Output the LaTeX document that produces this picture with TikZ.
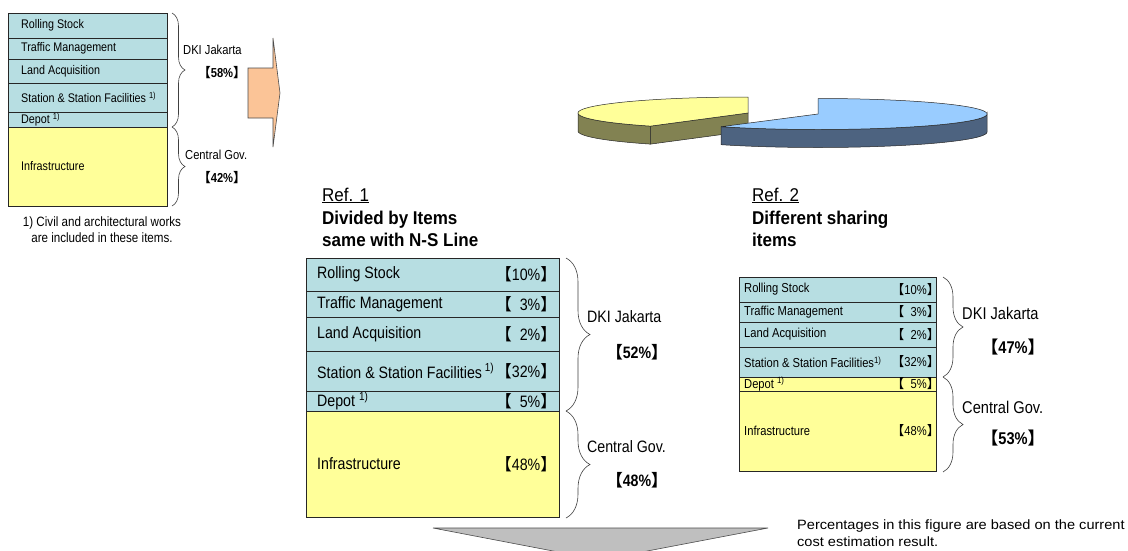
\documentclass[tikz,border=0pt]{standalone}
\usepackage{fontspec}
\setmainfont{Liberation Sans}[FakeStretch=0.86]
\newfontfamily\titlefont{Liberation Sans}[FakeStretch=0.92]
\newfontfamily\notefont{Liberation Sans}[FakeStretch=1.08]
\newfontfamily\cjk{Noto Sans CJK SC}
\usetikzlibrary{decorations.pathreplacing}

\definecolor{rowblue}{HTML}{B7DEE2}
\definecolor{rowyellow}{HTML}{FFFF99}
\definecolor{pieyellow}{HTML}{FFFF99}
\definecolor{oliveside}{HTML}{828252}
\definecolor{bluetop}{HTML}{99CCFF}
\definecolor{blueside}{HTML}{4D6380}
\definecolor{arroworange}{HTML}{FBC497}

% share in lenticular brackets
\newcommand{\pc}[1]{{\cjk 【}#1{\cjk 】}}
% footnote mark
\newcommand{\fnm}{\textsuperscript{1)}}
% one coloured row of a table: name, x, y(top), width, height, colour
\newcommand{\tabrow}[6]{%
  \node[cell, fill=#6, minimum width=#4pt, minimum height=#5pt] (#1) at (#2,#3) {};}

\tikzset{
  cell/.style={draw=black!85, line width=0.8pt, inner sep=0pt, outer sep=0pt, anchor=north west},
  item/.style={anchor=west, inner sep=0pt},
  share/.style={anchor=east, inner sep=0pt},
  brc/.style={decorate, decoration={brace, amplitude=#1}, draw=black!75, line width=0.6pt},
  sm/.style={font=\fontsize{12.5}{14}\selectfont},
  md/.style={font=\fontsize{16.5}{19}\selectfont},
  mdb/.style={font=\fontsize{16.5}{19}\selectfont\bfseries},
  rt/.style={font=\fontsize{13}{15}\selectfont},
  ttl/.style={anchor=base west, inner sep=0pt, font=\titlefont\fontsize{18.5}{22}\selectfont},
  pieedge/.style={draw=black!85, line width=0.5pt},
}

\begin{document}
\begin{tikzpicture}[x=1pt, y=-1pt]
\useasboundingbox (0,0) rectangle (1128,550);
\fill[white] (0,0) rectangle (1128,550);

% ---------- current sharing (top left) ----------
\tabrow{a1}{8}{13}{159}{25}{rowblue}
\tabrow{a2}{8}{38}{159}{21}{rowblue}
\tabrow{a3}{8}{59}{159}{24}{rowblue}
\tabrow{a4}{8}{83}{159}{29}{rowblue}
\tabrow{a5}{8}{112}{159}{15}{rowblue}
\tabrow{a6}{8}{127}{159}{79}{rowyellow}
\node[item, sm] (ta1) at ([xshift=13pt]a1.west) {Rolling Stock};
\node[item, sm] (ta2) at ([xshift=13pt]a2.west) {Traffic Management};
\node[item, sm] (ta3) at ([xshift=13pt]a3.west) {Land Acquisition};
\node[item, sm] (ta4) at ([xshift=13pt]a4.west) {Station \& Station Facilities \fnm};
\node[item, sm] (ta5) at ([xshift=13pt]a5.west) {Depot \fnm};
\node[item, sm] (ta6) at ([xshift=13pt]a6.west) {Infrastructure};

\coordinate (ka) at (172,13);
\coordinate (kb) at (172,127);
\coordinate (kc) at (172,206);
\draw[brc=13pt] (ka) -- (kb);
\draw[brc=13pt] (kb) -- (kc);
\node[item, font=\fontsize{13}{15}\selectfont] (la1) at (183,50) {DKI Jakarta};
\node[inner sep=0pt, font=\fontsize{13}{15}\selectfont\bfseries] (la2) at (222,73) {\pc{58\%}};
\node[item, font=\fontsize{13}{15}\selectfont] (la3) at (185,155) {Central Gov.};
\node[inner sep=0pt, font=\fontsize{13}{15}\selectfont\bfseries] (la4) at (222,178) {\pc{42\%}};

\node[align=center, inner sep=0pt, font=\fontsize{13.5}{16}\selectfont] (fnote) at (102,230)
  {1) Civil and architectural works\\are included in these items.};

% arrow towards the alternatives
\filldraw[draw=black!70, fill=arroworange, line width=0.6pt]
  (248,68) -- (273,68) -- (273,38) -- (280,93) -- (273,147) -- (273,118) -- (248,118) -- cycle;

% ---------- 3D pie ----------
% yellow slice (42%)
\filldraw[pieedge, fill=oliveside]
  plot[domain=180:235, samples=40] ({748+170*cos(\x)},{113-16*sin(\x)})
  -- plot[domain=235:180, samples=40] ({748+170*cos(\x)},{131-16*sin(\x)}) -- cycle;
\filldraw[pieedge, fill=oliveside]
  (748,113) -- ({748+170*cos(235)},{113-16*sin(235)})
  -- ({748+170*cos(235)},{131-16*sin(235)}) -- (748,131) -- cycle;
\filldraw[pieedge, fill=pieyellow]
  (748,113) -- plot[domain=90:235, samples=80] ({748+170*cos(\x)},{113-16*sin(\x)}) -- cycle;
% blue slice (58%)
\filldraw[pieedge, fill=blueside]
  plot[domain=235:360, samples=60] ({818+169*cos(\x)},{114-15.5*sin(\x)})
  -- plot[domain=360:235, samples=60] ({818+169*cos(\x)},{132-15.5*sin(\x)}) -- cycle;
\filldraw[pieedge, fill=bluetop]
  (818,114) -- plot[domain=235:450, samples=100] ({818+169*cos(\x)},{114-15.5*sin(\x)}) -- cycle;

% ---------- Ref. 1 ----------
\node[ttl] (r1a) at (322,201) {\underline{Ref. 1}};
\node[ttl] (r1b) at (322,224) {\bfseries Divided by Items};
\node[ttl] (r1c) at (322,246) {\bfseries same with N-S Line};

\tabrow{b1}{306}{258}{253}{33}{rowblue}
\tabrow{b2}{306}{291}{253}{26}{rowblue}
\tabrow{b3}{306}{317}{253}{34}{rowblue}
\tabrow{b4}{306}{351}{253}{40}{rowblue}
\tabrow{b5}{306}{391}{253}{20}{rowblue}
\tabrow{b6}{306}{411}{253}{106}{rowyellow}
\node[item, md] (tb1) at ([xshift=11pt]b1.west) {Rolling Stock};
\node[item, md] (tb2) at ([xshift=11pt]b2.west) {Traffic Management};
\node[item, md] (tb3) at ([xshift=11pt]b3.west) {Land Acquisition};
\node[item, md] (tb4) at ([xshift=11pt]b4.west) {Station \& Station Facilities\,\fnm};
\node[item, md] (tb5) at ([xshift=11pt]b5.west) {Depot \fnm};
\node[item, md] (tb6) at ([xshift=11pt]b6.west) {Infrastructure};
\node[share, md] (pb1) at ([xshift=-2pt]b1.east) {\pc{10\%}};
\node[share, md] (pb2) at ([xshift=-2pt]b2.east) {\pc{\phantom{0}3\%}};
\node[share, md] (pb3) at ([xshift=-2pt]b3.east) {\pc{\phantom{0}2\%}};
\node[share, md] (pb4) at ([xshift=-2pt]b4.east) {\pc{32\%}};
\node[share, md] (pb5) at ([xshift=-2pt]b5.east) {\pc{\phantom{0}5\%}};
\node[share, md] (pb6) at ([xshift=-2pt]b6.east) {\pc{48\%}};

\coordinate (kd) at (566,258);
\coordinate (ke) at (566,411);
\coordinate (kf) at (566,518);
\draw[brc=24pt] (kd) -- (ke);
\draw[brc=24pt] (ke) -- (kf);
\node[item, md] (lb1) at (587,317) {DKI Jakarta};
\node[inner sep=0pt, mdb] (lb2) at (637,352) {\pc{52\%}};
\node[item, md] (lb3) at (587,447) {Central Gov.};
\node[inner sep=0pt, mdb] (lb4) at (637,480) {\pc{48\%}};

% ---------- Ref. 2 ----------
\node[ttl] (r2a) at (752,201) {\underline{Ref. 2}};
\node[ttl] (r2b) at (752,224) {\bfseries Different sharing};
\node[ttl] (r2c) at (752,246) {\bfseries items};

\tabrow{c1}{739}{277}{197}{25}{rowblue}
\tabrow{c2}{739}{302}{197}{20}{rowblue}
\tabrow{c3}{739}{322}{197}{25}{rowblue}
\tabrow{c4}{739}{347}{197}{30}{rowblue}
\tabrow{c5}{739}{377}{197}{14}{rowyellow}
\tabrow{c6}{739}{391}{197}{80}{rowyellow}
\node[item, rt] (tc1) at ([xshift=5pt]c1.west) {Rolling Stock};
\node[item, rt] (tc2) at ([xshift=5pt]c2.west) {Traffic Management};
\node[item, rt] (tc3) at ([xshift=5pt]c3.west) {Land Acquisition};
\node[item, rt] (tc4) at ([xshift=5pt]c4.west) {Station \& Station Facilities\fnm};
\node[item, rt] (tc5) at ([xshift=5pt]c5.west) {Depot \fnm};
\node[item, rt] (tc6) at ([xshift=5pt]c6.west) {Infrastructure};
\node[share, rt] (pc1) at ([xshift=4pt]c1.east) {\pc{10\%}};
\node[share, rt] (pc2) at ([xshift=4pt]c2.east) {\pc{\phantom{0}3\%}};
\node[share, rt] (pc3) at ([xshift=4pt]c3.east) {\pc{\phantom{0}2\%}};
\node[share, rt] (pc4) at ([xshift=4pt]c4.east) {\pc{32\%}};
\node[share, rt] (pc5) at ([xshift=4pt]c5.east) {\pc{\phantom{0}5\%}};
\node[share, rt] (pc6) at ([xshift=4pt]c6.east) {\pc{48\%}};

\coordinate (kg) at (943,277);
\coordinate (kh) at (943,377);
\coordinate (ki) at (943,472);
\draw[brc=20pt] (kg) -- (kh);
\draw[brc=20pt] (kh) -- (ki);
\node[item, font=\fontsize{17}{19}\selectfont] (lc1) at (962,313) {DKI Jakarta};
\node[inner sep=0pt, font=\fontsize{17}{19}\selectfont\bfseries] (lc2) at (1013,347) {\pc{47\%}};
\node[item, font=\fontsize{17}{19}\selectfont] (lc3) at (962,407) {Central Gov.};
\node[inner sep=0pt, font=\fontsize{17}{19}\selectfont\bfseries] (lc4) at (1013,438) {\pc{53\%}};

% ---------- bottom ----------
\begin{scope}
  \clip (0,0) rectangle (1128,550);
  \filldraw[draw=black!70, fill=black!25, line width=0.6pt] (433,528) -- (768,528) -- (600,560) -- cycle;
\end{scope}
\node[anchor=west, align=left, inner sep=0pt, font=\notefont\fontsize{13.5}{17}\selectfont] (note) at (797,533)
  {Percentages in this figure are based on the current\\cost estimation result.};
\end{tikzpicture}
\end{document}
